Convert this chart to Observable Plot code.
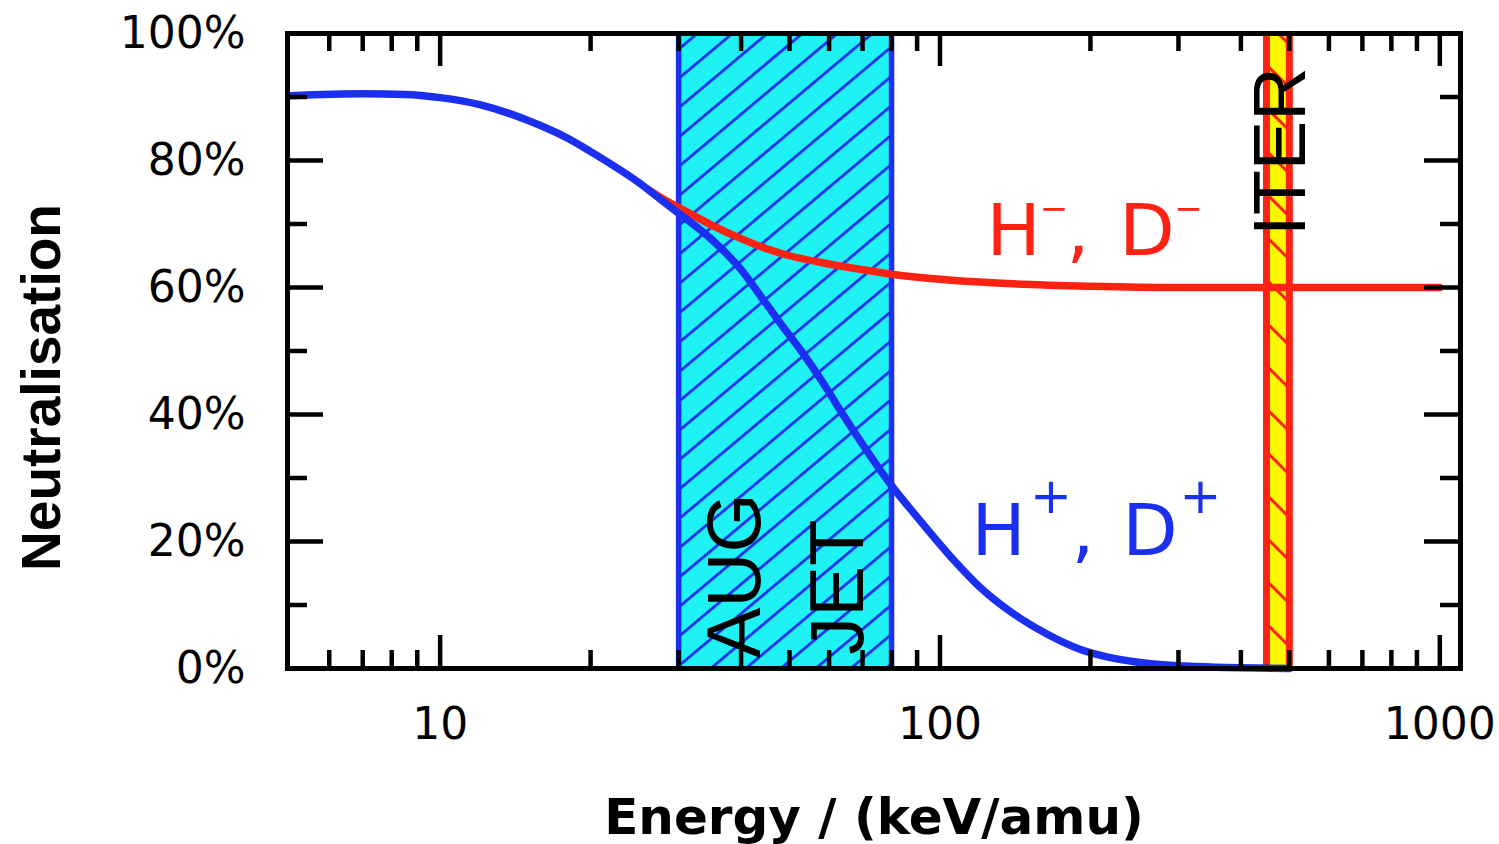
<!DOCTYPE html>
<html>
<head>
<meta charset="utf-8">
<script src="https://cdn.jsdelivr.net/npm/d3@7"></script>
<script src="https://cdn.jsdelivr.net/npm/@observablehq/plot@0.6"></script>
<style>
  html, body { margin: 0; padding: 0; background: #fff; }
  #chart svg { display: block; }
</style>
</head>
<body>
<div id="chart"></div>
<script>
// ---------- data ----------
// positive ions H+, D+ : energy (keV/amu) -> neutralisation (%)
const posEnergy = [5, 7, 8.5, 10, 12, 15, 18, 20, 22, 25, 28, 30, 35, 40, 44, 48, 53, 58, 63, 70, 76, 80, 89, 104, 121, 141, 164, 191, 223, 261, 328, 400, 500];
const posNeutral = [90.2, 90.5, 90.4, 89.9, 88.8, 86.3, 83.5, 81.4, 79.4, 76.5, 73.5, 71.7, 67.5, 62.8, 58.4, 54.3, 49.8, 45.3, 40.8, 35.3, 31.2, 28.8, 24.3, 18.0, 12.6, 8.5, 5.4, 3.0, 1.6, 0.8, 0.3, 0.1, 0.0];
// negative ions H-, D-
const negEnergy = [26, 28, 30, 35, 40, 45, 50, 60, 70, 80, 100, 130, 200, 300, 1000];
const negNeutral = [75.5, 73.9, 72.6, 69.8, 67.7, 66.1, 65.0, 63.7, 62.8, 62.1, 61.3, 60.7, 60.2, 60.0, 60.0];
// heating-beam energy ranges (keV/amu)
const augJetRange = [30, 80];
const iterRange = [450, 500];
// axis ticks
const xMajorTicks = [10, 100, 1000];
const xMinorTicks = [6, 7, 8, 9, 20, 30, 40, 50, 60, 70, 80, 90, 200, 300, 400, 500, 600, 700, 800, 900];
const yMajorTicks = [0, 20, 40, 60, 80, 100];
const yMinorTicks = [10, 30, 50, 70, 90];
const yTickLabels = ["0%", "20%", "40%", "60%", "80%", "100%"];
const xTickLabels = ["10", "100", "1000"];

// ---------- layout / styles ----------
const W = 1499, H = 844;
const mL = 287, mR = 39, mT = 33, mB = 176;
const innerW = W - mL - mR, innerH = H - mT - mB;
const BLUE = "#1a2ff0", RED = "#ff2212", CYAN = "#1ef2f4", YELLOW = "#fbf800";
const SANS = "DejaVu Sans, Liberation Sans, Arial, sans-serif";
const ARIAL = "Liberation Sans, Arial, Helvetica, sans-serif";

const pos = posEnergy.map((e, i) => ({e, v: posNeutral[i]}));
const neg = negEnergy.map((e, i) => ({e, v: negNeutral[i]}));
const bands = [{x1: augJetRange[0], x2: augJetRange[1]}];
const iter = [{x1: iterRange[0], x2: iterRange[1]}];

function parts(anchorX, anchorY, color, items) {
  return items.map(p => Plot.text([p.t], {
    x: () => anchorX, y: () => anchorY, text: d => d,
    dx: p.dx, dy: p.dy, fontSize: p.s, fill: color, fontFamily: SANS,
    textAnchor: "middle", lineAnchor: "middle"
  }));
}

const chart = Plot.plot({
  width: W, height: H,
  marginLeft: mL, marginRight: mR, marginTop: mT, marginBottom: mB,
  x: {type: "log", domain: [4.95, 1100], axis: null},
  y: {domain: [0, 100], axis: null},
  marks: [
    // AUG / JET band
    Plot.rect(bands, {x1: "x1", x2: "x2", y1: 0, y2: 100, fill: CYAN}),
    Plot.rect(bands, {x1: "x1", x2: "x2", y1: 0, y2: 100, fill: "url(#hatchAUG)"}),
    Plot.ruleX(augJetRange, {stroke: BLUE, strokeWidth: 5.5}),
    // ITER band
    Plot.rect(iter, {x1: "x1", x2: "x2", y1: 0, y2: 100, fill: YELLOW}),
    Plot.rect(iter, {x1: "x1", x2: "x2", y1: 0, y2: 100, fill: "url(#hatchITER)"}),
    Plot.ruleX(iterRange, {stroke: RED, strokeWidth: 7}),
    // curves
    Plot.line(neg, {x: "e", y: "v", stroke: RED, strokeWidth: 7.5, curve: "monotone-x", strokeLinejoin: "round", strokeLinecap: "round"}),
    Plot.line(pos, {x: "e", y: "v", stroke: BLUE, strokeWidth: 7.5, curve: "monotone-x", strokeLinejoin: "round", strokeLinecap: "round"}),
    // band labels
    Plot.text(["AUG"], {x: () => 39.1, y: () => 14.6, text: d => d, rotate: -90, fontSize: 76, fontFamily: ARIAL, fill: "#000", textAnchor: "middle", lineAnchor: "middle"}),
    Plot.text(["JET"], {x: () => 62.8, y: () => 12.8, text: d => d, rotate: -90, fontSize: 76, fontFamily: ARIAL, fill: "#000", textAnchor: "middle", lineAnchor: "middle"}),
    Plot.text(["ITER"], {x: () => 481, y: () => 81.4, text: d => d, rotate: -90, fontSize: 74, fontFamily: ARIAL, fill: "#000", textAnchor: "middle", lineAnchor: "middle"}),
    // series labels
    ...parts(117, 21.5, BLUE, [
      {t: "H", dx: 24.5, dy: 0, s: 72},
      {t: "+", dx: 77, dy: -34.5, s: 50},
      {t: ",", dx: 109, dy: 0, s: 72},
      {t: "D", dx: 176, dy: 0, s: 72},
      {t: "+", dx: 226.5, dy: -34.5, s: 50}
    ]),
    ...parts(125.3, 68.7, RED, [
      {t: "H", dx: 24.5, dy: 0, s: 72},
      {t: "\u2212", dx: 65, dy: -23.5, s: 34},
      {t: ",", dx: 89, dy: 0, s: 72},
      {t: "D", dx: 158, dy: 0, s: 72},
      {t: "\u2212", dx: 199.5, dy: -23.5, s: 34}
    ]),
    // ticks (inward, mirrored on all sides)
    Plot.ruleX(xMajorTicks, {insetTop: innerH - 33, stroke: "#000", strokeWidth: 4.5}),
    Plot.ruleX(xMajorTicks, {insetBottom: innerH - 33, stroke: "#000", strokeWidth: 4.5}),
    Plot.ruleX(xMinorTicks, {insetTop: innerH - 18, stroke: "#000", strokeWidth: 4.5}),
    Plot.ruleX(xMinorTicks, {insetBottom: innerH - 18, stroke: "#000", strokeWidth: 4.5}),
    Plot.ruleY(yMajorTicks, {insetRight: innerW - 36, stroke: "#000", strokeWidth: 4.5}),
    Plot.ruleY(yMajorTicks, {insetLeft: innerW - 36, stroke: "#000", strokeWidth: 4.5}),
    Plot.ruleY(yMinorTicks, {insetRight: innerW - 20, stroke: "#000", strokeWidth: 4.5}),
    Plot.ruleY(yMinorTicks, {insetLeft: innerW - 20, stroke: "#000", strokeWidth: 4.5}),
    Plot.frame({stroke: "#000", strokeWidth: 5}),
    // tick labels
    Plot.text(yMajorTicks, {y: d => d, text: (d, i) => yTickLabels[i], frameAnchor: "left", dx: -42, textAnchor: "end", lineAnchor: "middle", fontSize: 44, fontFamily: SANS, fill: "#000"}),
    Plot.text(xMajorTicks, {x: d => d, text: (d, i) => xTickLabels[i], frameAnchor: "bottom", dy: 56, textAnchor: "middle", lineAnchor: "middle", fontSize: 44, fontFamily: SANS, fill: "#000"}),
    // axis titles
    Plot.text(["Energy / (keV/amu)"], {text: d => d, frameAnchor: "bottom", dy: 149, textAnchor: "middle", lineAnchor: "middle", fontSize: 50, fontWeight: "bold", fontFamily: SANS, fill: "#000"}),
    Plot.text(["Neutralisation"], {text: d => d, frameAnchor: "left", dx: -245, dy: 36.5, rotate: -90, textAnchor: "middle", lineAnchor: "middle", fontSize: 55, fontWeight: "bold", fontFamily: ARIAL, fill: "#000"})
  ]
});

// hatch patterns
d3.select(chart).insert("defs", ":first-child").html(`
  <pattern id="hatchAUG" patternUnits="userSpaceOnUse" width="12" height="22.5" patternTransform="rotate(-40)">
    <rect x="0" y="0" width="12" height="2.8" fill="${BLUE}"></rect>
  </pattern>
  <pattern id="hatchITER" patternUnits="userSpaceOnUse" width="12" height="30.4" patternTransform="rotate(45)">
    <rect x="0" y="0" width="12" height="3" fill="${RED}"></rect>
  </pattern>
`);

document.getElementById("chart").appendChild(chart);
</script>
</body>
</html>
